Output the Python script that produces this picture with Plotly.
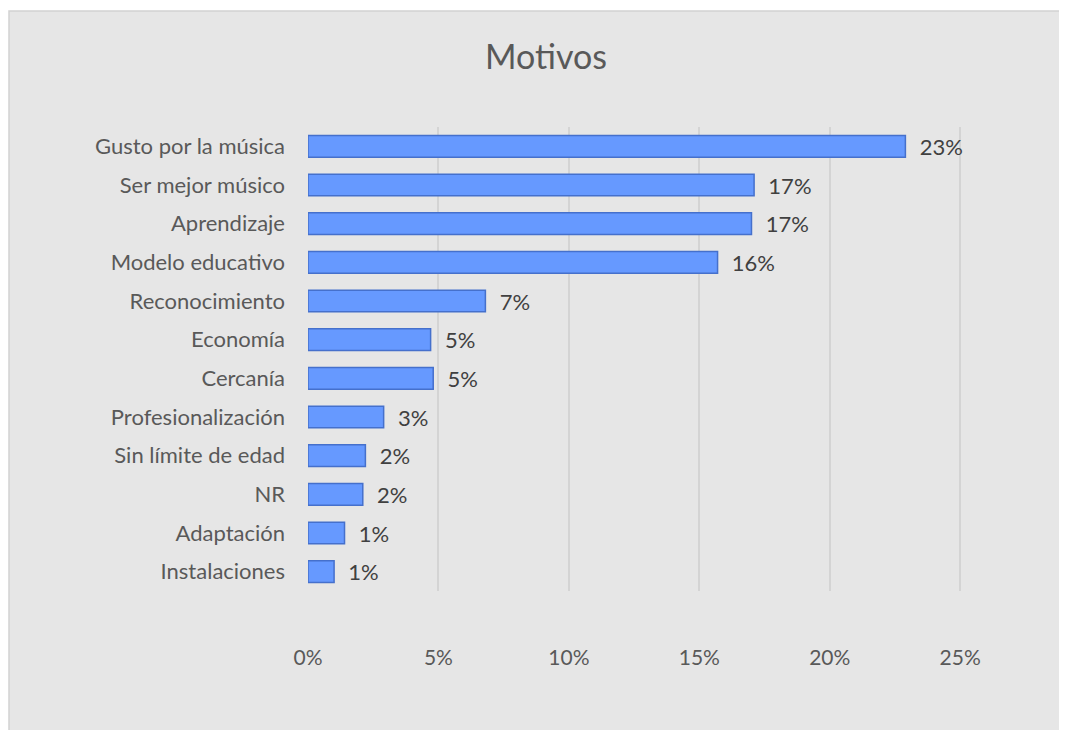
import plotly.graph_objects as go

categories = ["Gusto por la música", "Ser mejor músico", "Aprendizaje", "Modelo educativo",
              "Reconocimiento", "Economía", "Cercanía", "Profesionalización",
              "Sin límite de edad", "NR", "Adaptación", "Instalaciones"]
values = [22.9, 17.1, 17.0, 15.7, 6.8, 4.7, 4.8, 2.9, 2.2, 2.1, 1.4, 1.0]
value_labels = ["23%", "17%", "17%", "16%", "7%", "5%", "5%", "3%", "2%", "2%", "1%", "1%"]
tick_vals = [0, 5, 10, 15, 20, 25]
tick_text = ["0%", "5%", "10%", "15%", "20%", "25%"]

FONT = "Lato, Open Sans, sans-serif"
# page body has an 8px margin; figure sized to fit inside the window without scrollbars
W, H = 1051, 722
L, R, T, B = 300, 91, 119, 139
pw, ph = W - L - R, H - T - B

fig = go.Figure()
fig.add_trace(go.Bar(
    y=categories, x=values, orientation="h",
    marker=dict(color="#6699FF", line=dict(color="#4570CC", width=1.5)),
    text=value_labels, texttemplate="  %{text}", textposition="outside",
    constraintext="none", cliponaxis=False,
    textfont=dict(family=FONT, size=22, color="#404040"),
    hoverinfo="skip",
))

fig.update_layout(
    width=W, height=H,
    margin=dict(l=L, r=R, t=T, b=B),
    paper_bgcolor="white",
    plot_bgcolor="rgba(0,0,0,0)",
    bargap=0.44,
    showlegend=False,
    title=dict(text="Motivos", x=538 / W, xanchor="center", y=1 - 49 / H, yanchor="middle",
               font=dict(family=FONT, size=34, color="#595959")),
    xaxis=dict(range=[0, 25.3], tickvals=tick_vals, ticktext=tick_text,
               showgrid=True, gridcolor="#D4D4D4", gridwidth=1.5, zeroline=False,
               showline=False, ticks="", ticklabelstandoff=52,
               tickfont=dict(family=FONT, size=21, color="#595959")),
    yaxis=dict(autorange="reversed", showgrid=False, zeroline=False, showline=False,
               ticks="", ticklabelstandoff=22,
               tickfont=dict(family=FONT, size=22, color="#595959")),
    shapes=[dict(type="rect", xref="paper", yref="paper", layer="below",
                 x0=(1 - L) / pw, x1=(W + 20 - L) / pw,
                 y0=(H - B - (H + 20)) / ph, y1=(H - B - 3) / ph,
                 fillcolor="#E6E6E6", line=dict(color="#D2D2D2", width=1.5))],
)

fig.write_html("out.html")
